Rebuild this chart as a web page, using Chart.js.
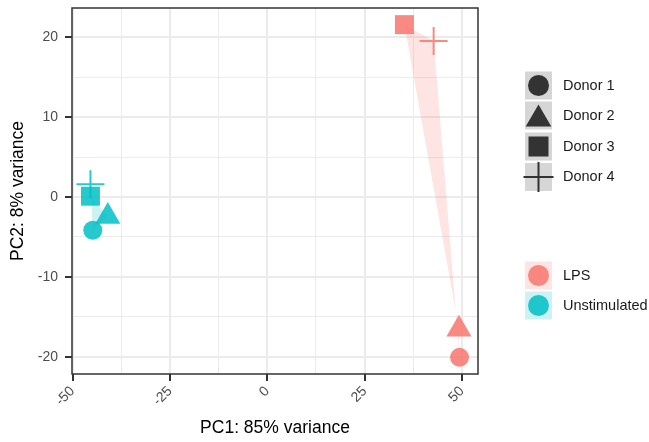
<!DOCTYPE html>
<html><head><meta charset="utf-8">
<script src="https://cdn.jsdelivr.net/npm/chart.js@4/dist/chart.umd.min.js"></script>
<style>html,body{margin:0;padding:0;background:#fff;}#wrap{width:649px;height:442px;position:relative;}</style>
</head><body><div id="wrap"><canvas id="c" width="649" height="442"></canvas></div>
<script>
// ---- data ----
const donors = ['Donor 1', 'Donor 2', 'Donor 3', 'Donor 4'];
const conditions = ['LPS', 'Unstimulated'];
const lpsPC1 = [49.35, 49.2, 35.2, 42.7];
const lpsPC2 = [-20.05, -16.55, 21.55, 19.5];
const unstimPC1 = [-44.8, -40.95, -45.4, -45.4];
const unstimPC2 = [-4.15, -2.45, 0.1, 1.6];
const xTickLabels = [-50, -25, 0, 25, 50];
const yTickLabels = [-20, -10, 0, 10, 20];
const xMinorTicks = [-37.5, -12.5, 12.5, 37.5];
const yMinorTicks = [-15, -5, 5, 15];
const xTitle = 'PC1: 85% variance';
const yTitle = 'PC2: 8% variance';

// ---- styles ----
const FONT = "'Liberation Sans', Arial, Helvetica, sans-serif";
const condColors = { 'LPS': [248, 118, 109], 'Unstimulated': [0, 191, 196] };
const rgba = (c, a) => `rgba(${c[0]},${c[1]},${c[2]},${a})`;
const donorShapes = ['circle', 'triangle', 'rect', 'cross'];
const donorRadius = [9.5, 14.5, 13.4, 14];
const donorBorder = [0, 0, 0, 2];
const seriesByCond = { 'LPS': [lpsPC1, lpsPC2], 'Unstimulated': [unstimPC1, unstimPC2] };

// ggplot-like 5% expansion
const allX = lpsPC1.concat(unstimPC1), allY = lpsPC2.concat(unstimPC2);
const xr = Math.max(...allX) - Math.min(...allX), yr = Math.max(...allY) - Math.min(...allY);
const xMin = Math.min(...allX) - 0.05 * xr, xMax = Math.max(...allX) + 0.05 * xr;
const yMin = Math.min(...allY) - 0.05 * yr, yMax = Math.max(...allY) + 0.05 * yr;

const datasets = [];
conditions.forEach(c => {
  const [xs, ys] = seriesByCond[c];
  const p = xs.map((x, i) => ({ x: x, y: ys[i] }));
  datasets.push({
    label: c + ' area', data: p.concat([p[0]]), showLine: true, fill: 'shape',
    backgroundColor: rgba(condColors[c], 0.2), borderColor: 'rgba(0,0,0,0)', borderWidth: 0,
    pointRadius: 0, order: 10, tension: 0
  });
  datasets.push({
    label: c, data: p, showLine: false,
    pointStyle: donorShapes, pointRadius: donorRadius, pointBorderWidth: donorBorder,
    pointBackgroundColor: rgba(condColors[c], 0.85), pointBorderColor: rgba(condColors[c], 0.85),
    order: 0
  });
});

const isMajor = (list, v) => list.some(t => Math.abs(t - v) < 1e-9);

const panelBorder = {
  id: 'panelBorder',
  afterDatasetsDraw(chart) {
    const a = chart.chartArea, ctx = chart.ctx;
    ctx.save(); ctx.strokeStyle = '#333333'; ctx.lineWidth = 1.5;
    ctx.strokeRect(a.left, a.top, a.right - a.left, a.bottom - a.top);
    ctx.restore();
  }
};

function drawShape(ctx, shape, cx, cy, color) {
  ctx.fillStyle = color; ctx.strokeStyle = color;
  ctx.beginPath();
  if (shape === 'circle') { ctx.arc(cx, cy, 10.5, 0, Math.PI * 2); ctx.fill(); }
  else if (shape === 'triangle') {
    ctx.moveTo(cx, cy - 11); ctx.lineTo(cx + 12.8, cy + 11); ctx.lineTo(cx - 12.8, cy + 11); ctx.closePath(); ctx.fill();
  } else if (shape === 'rect') { ctx.rect(cx - 10, cy - 10, 20, 20); ctx.fill(); }
  else if (shape === 'cross') {
    ctx.lineWidth = 2; ctx.moveTo(cx - 15, cy); ctx.lineTo(cx + 15, cy); ctx.moveTo(cx, cy - 15); ctx.lineTo(cx, cy + 15); ctx.stroke();
  }
}

const legendPlugin = {
  id: 'ggLegend',
  afterDraw(chart) {
    const ctx = chart.ctx;
    ctx.save();
    const kx = 525, kw = 27, kh = 28, tx = 563;
    const donorY = [85.5, 115.5, 146.5, 177];
    ctx.font = `14.5px ${FONT}`; ctx.textBaseline = 'middle'; ctx.textAlign = 'left';
    donors.forEach((d, i) => {
      const cy = donorY[i];
      ctx.fillStyle = '#D6D6D6'; ctx.fillRect(kx, cy - kh / 2, kw, kh);
      drawShape(ctx, donorShapes[i], kx + kw / 2, cy, '#333333');
      ctx.fillStyle = '#1A1A1A'; ctx.fillText(d, tx, cy);
    });
    const condY = [275.5, 305.5];
    conditions.forEach((c, i) => {
      const cy = condY[i];
      ctx.fillStyle = rgba(condColors[c], 0.2); ctx.fillRect(kx, cy - kh / 2, kw, kh);
      drawShape(ctx, 'circle', kx + kw / 2, cy, rgba(condColors[c], 0.85));
      ctx.fillStyle = '#1A1A1A'; ctx.fillText(c, tx, cy);
    });
    ctx.restore();
  }
};

const bg = { id: 'bg', beforeDraw(chart) { const ctx = chart.ctx; ctx.save(); ctx.fillStyle = '#fff'; ctx.fillRect(0, 0, chart.width, chart.height); ctx.restore(); } };

new Chart(document.getElementById('c'), {
  type: 'scatter',
  data: { datasets },
  plugins: [bg, panelBorder, legendPlugin],
  options: {
    responsive: false, animation: false, events: [],
    layout: { autoPadding: false, padding: { top: 8, right: 171, left: 0, bottom: 0 } },
    plugins: { legend: { display: false }, tooltip: { enabled: false } },
    scales: {
      x: {
        type: 'linear', min: xMin, max: xMax,
        afterBuildTicks: s => { s.ticks = xTickLabels.concat(xMinorTicks).sort((a, b) => a - b).map(v => ({ value: v })); },
        afterFit: s => { s.height = 68; s.paddingLeft = 0; s.paddingRight = 0; },
        ticks: {
          autoSkip: false, minRotation: 45, maxRotation: 45, padding: 2, color: '#4D4D4D',
          font: { family: FONT, size: 14 },
          callback: v => isMajor(xTickLabels, v) ? String(v) : ''
        },
        grid: {
          color: '#EBEBEB',
          lineWidth: c => isMajor(xTickLabels, c.tick.value) ? 2 : 1,
          tickLength: 7, tickWidth: 2,
          tickColor: c => isMajor(xTickLabels, c.tick.value) ? '#333333' : 'rgba(0,0,0,0)'
        },
        border: { display: false },
        title: { display: true, text: xTitle, color: '#000', font: { family: FONT, size: 17.5 }, padding: { top: 0, bottom: 3.5 } }
      },
      y: {
        type: 'linear', min: yMin, max: yMax,
        afterBuildTicks: s => { s.ticks = yTickLabels.concat(yMinorTicks).sort((a, b) => a - b).map(v => ({ value: v })); },
        afterFit: s => { s.width = 72; s.paddingTop = 0; s.paddingBottom = 0; },
        ticks: {
          autoSkip: false, padding: 7, color: '#4D4D4D',
          font: { family: FONT, size: 14 },
          callback: v => isMajor(yTickLabels, v) ? String(v) : ''
        },
        grid: {
          color: '#EBEBEB',
          lineWidth: c => isMajor(yTickLabels, c.tick.value) ? 2 : 1,
          tickLength: 7, tickWidth: 2,
          tickColor: c => isMajor(yTickLabels, c.tick.value) ? '#333333' : 'rgba(0,0,0,0)'
        },
        border: { display: false },
        title: { display: true, text: yTitle, color: '#000', font: { family: FONT, size: 17.5 }, padding: { top: 8, bottom: 0 } }
      }
    }
  }
});
</script></body></html>
